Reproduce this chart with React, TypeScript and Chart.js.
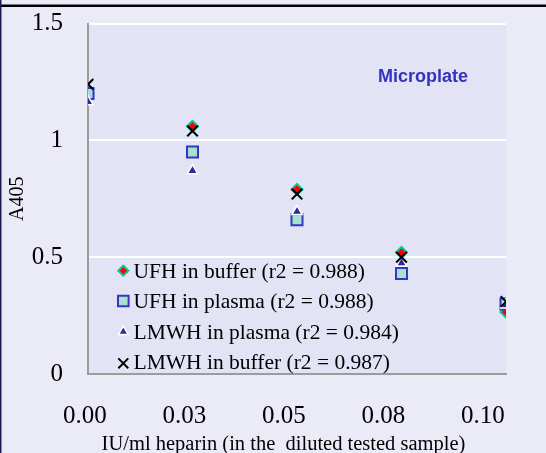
import React, { useEffect, useRef } from "react";
import { Chart, registerables } from "chart.js";
import { drawPoint } from "chart.js/helpers";

Chart.register(...registerables);

const X_VALUES = [0, 0.025, 0.05, 0.075, 0.1];
const X_TICK_VALUES = [0, 0.025, 0.05, 0.075, 0.1];
const X_TICK_LABELS = ["0.00", "0.03", "0.05", "0.08", "0.10"];
const UFH_BUFFER = [1.2, 1.06, 0.79, 0.52, 0.265];
const UFH_PLASMA = [1.2, 0.95, 0.66, 0.43, 0.3];
const LMWH_PLASMA = [1.165, 0.87, 0.695, 0.475, 0.295];
const LMWH_BUFFER = [1.24, 1.04, 0.77, 0.5, 0.31];
const SERIES_LABELS = [
  "UFH in buffer (r2 = 0.988)",
  "UFH in plasma (r2 = 0.988)",
  "LMWH in plasma (r2 = 0.984)",
  "LMWH in buffer (r2 = 0.987)",
];
const X_TITLE = "IU/ml heparin (in the  diluted tested sample)";
const Y_TITLE = "A405";
const NOTE = "Microplate";

const SERIF = "'Liberation Serif', 'Times New Roman', serif";
const SANS = "'Liberation Sans', Arial, sans-serif";

const pts = (ys: number[]) => X_VALUES.map((x, i) => ({ x, y: ys[i] }));

export default function App() {
  const ref = useRef<HTMLCanvasElement | null>(null);
  useEffect(() => {
    if (!ref.current) return;
    const styles = [
      { pointStyle: "rectRot", radius: 5.5, bg: "#FF0000", border: "#00C896", bw: 2, lr: 5 },
      { pointStyle: "rect", radius: 7.8, bg: "#A8E2CC", border: "#3535C8", bw: 2, lr: 7.5 },
      { pointStyle: "triangle", radius: 6, bg: "#2A2A9A", border: "#FFFFFF", bw: 1.5, lr: 5.5 },
      { pointStyle: "crossRot", radius: 7.5, bg: "#000000", border: "#000000", bw: 2, lr: 7 },
    ];
    const series = [UFH_BUFFER, UFH_PLASMA, LMWH_PLASMA, LMWH_BUFFER];
    const datasets = series.map((s, i) => ({
      label: SERIES_LABELS[i],
      data: pts(s),
      xAxisID: "x",
      yAxisID: "y",
      showLine: false,
      order: 4 - i,
      pointStyle: styles[i].pointStyle as any,
      pointRadius: styles[i].radius,
      pointHoverRadius: styles[i].radius,
      backgroundColor: styles[i].bg,
      borderColor: styles[i].border,
      borderWidth: styles[i].bw,
      pointBackgroundColor: styles[i].bg,
      pointBorderColor: styles[i].border,
      pointBorderWidth: styles[i].bw,
    }));

    const decor = {
      id: "decor",
      beforeDraw(chart: any) {
        const { ctx, chartArea, width, height } = chart;
        ctx.save();
        ctx.fillStyle = "#EBEBF7";
        ctx.fillRect(0, 0, width, height);
        ctx.fillStyle = "#E2E3F5";
        ctx.fillRect(chartArea.left, chartArea.top, chartArea.right - chartArea.left, chartArea.bottom - chartArea.top);
        ctx.fillStyle = "#000000";
        ctx.fillRect(0, 4.5, width, 2.5);
        ctx.fillStyle = "#1C1C50";
        ctx.fillRect(0, 0, 1.5, height);
        ctx.restore();
      },
      afterDraw(chart: any) {
        const { ctx } = chart;
        ctx.save();
        ctx.font = `bold 18px ${SANS}`;
        ctx.fillStyle = "#3333BB";
        ctx.textAlign = "center";
        ctx.textBaseline = "alphabetic";
        ctx.fillText(NOTE, 423, 81.5);
        ctx.font = `20.5px ${SERIF}`;
        ctx.fillStyle = "#000000";
        ctx.fillText(X_TITLE, 283.5, 450);
        ctx.textAlign = "left";
        const textY = [278.3, 307.8, 338.5, 369.3];
        const markY = [270.7, 301, 331.7, 363.3];
        for (let i = 0; i < 4; i++) {
          const st = styles[i];
          ctx.fillStyle = st.bg;
          ctx.strokeStyle = st.border;
          ctx.lineWidth = st.bw;
          drawPoint(ctx, { pointStyle: st.pointStyle, rotation: 0, radius: st.lr, borderWidth: st.bw } as any, 123.3, markY[i]);
          ctx.fillStyle = "#000000";
          ctx.font = `21.5px ${SERIF}`;
          ctx.fillText(SERIES_LABELS[i], 133.5, textY[i]);
        }
        ctx.restore();
      },
    };

    const chart = new Chart(ref.current, {
      type: "scatter",
      data: { datasets: datasets as any },
      plugins: [decor],
      options: {
        animation: false,
        responsive: false,
        devicePixelRatio: 1,
        layout: { padding: { top: 23.5, right: 40, bottom: 0, left: 0 } },
        plugins: { legend: { display: false }, tooltip: { enabled: false } },
        scales: {
          x: { type: "linear", display: false, min: 0, max: 0.1 },
          x2: {
            type: "linear",
            axis: "x",
            position: "bottom",
            min: 0.000754,
            max: 0.10578,
            afterBuildTicks: (s: any) => {
              s.ticks = X_TICK_VALUES.map((v) => ({ value: v }));
            },
            afterFit: (s: any) => {
              s.height = 79;
              s.paddingLeft = 0;
              s.paddingRight = 0;
            },
            grid: { display: false, drawTicks: false },
            border: { display: true, color: "#9C9C9C", width: 2 },
            ticks: {
              padding: 27.5,
              autoSkip: false,
              maxRotation: 0,
              color: "#000000",
              font: { family: SERIF, size: 25 },
              callback: (_v: any, i: number) => X_TICK_LABELS[i],
            },
          },
          y: {
            type: "linear",
            position: "left",
            min: 0,
            max: 1.5,
            afterFit: (s: any) => {
              s.width = 88;
              s.paddingTop = 0;
              s.paddingBottom = 0;
            },
            grid: {
              drawTicks: false,
              color: (c: any) => (c.tick && c.tick.value === 0 ? "rgba(0,0,0,0)" : "#FFFFFF"),
              lineWidth: 2,
            },
            border: { display: true, color: "#9C9C9C", width: 2 },
            ticks: {
              stepSize: 0.5,
              padding: 25,
              color: "#000000",
              font: { family: SERIF, size: 25 },
              callback: (v: any) => String(v),
            },
            title: {
              display: true,
              text: Y_TITLE,
              color: "#000000",
              font: { family: SERIF, size: 20 },
              padding: { top: 5.5, bottom: 0 },
            },
          },
        },
      } as any,
    });
    return () => chart.destroy();
  }, []);

  return (
    <div style={{ position: "fixed", left: 0, top: 0, width: 546, height: 453 }}>
      <canvas ref={ref} width={546} height={453} style={{ display: "block", width: 546, height: 453 }} />
    </div>
  );
}
